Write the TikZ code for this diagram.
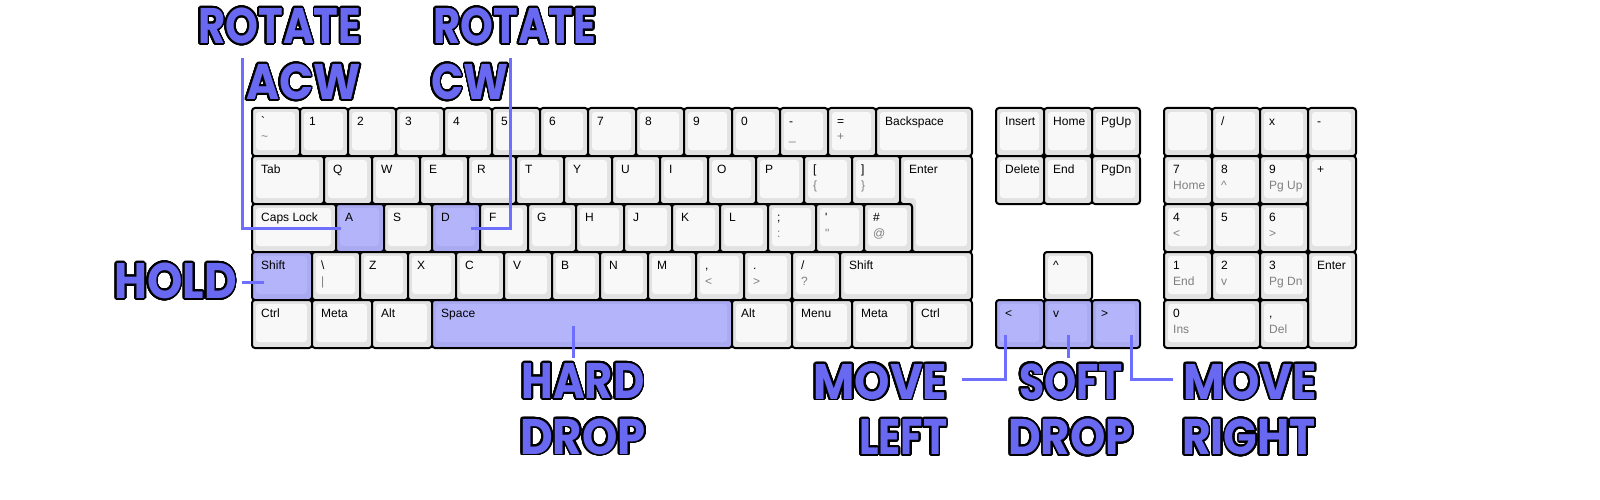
\documentclass[tikz,border=0pt]{standalone}
\usepackage{fontspec}
\usepackage{contour}
\setmainfont{Liberation Sans}
\newfontfamily\keyfont{Liberation Sans}
\newfontfamily\lblfont{Poppins}[FakeStretch=0.9]
\contourlength{1.8pt}
\contournumber{32}
\definecolor{kbev}{RGB}{226,226,226}
\definecolor{kface}{RGB}{248,248,248}
\definecolor{hbev}{RGB}{170,170,240}
\definecolor{hface}{RGB}{180,180,250}
\definecolor{lblue}{RGB}{104,104,240}
\definecolor{cblue}{RGB}{110,110,255}
\definecolor{subgrey}{RGB}{128,128,128}
\newcommand\outl[2][1]{\scalebox{#1}[1]{\contour{black}{#2}}}
\tikzset{
  keybox/.style={draw=black, line width=2pt, rounded corners=3pt, anchor=north west,
    inner sep=0pt, outer sep=0pt},
  klab/.style={font=\keyfont\fontsize{12}{14}\selectfont, anchor=base west, inner sep=0pt, text=black},
  ksub/.style={font=\keyfont\fontsize{12}{14}\selectfont, anchor=base west, inner sep=0pt, text=subgrey},
  big/.style={font=\lblfont\bfseries\fontsize{50}{56}\selectfont, inner sep=0pt, text=lblue},
  conn/.style={draw=cblue, line width=3pt}
}
\newcommand\keyx[9]{%
  \node[keybox, fill=#1, minimum width={#6*48pt}, minimum height={#7*48pt}] (#3) at ({252+#4*48},{108+#5*48}) {};
  \fill[#2, rounded corners=3pt] ([shift={(4,4)}]#3.north west) rectangle ([shift={(-5,-6)}]#3.south east);
  \node[klab] (#3-a) at ([shift={(9,17.5)}]#3.north west) {#8};
  \node[ksub] (#3-b) at ([shift={(9,33)}]#3.north west) {#9};
}
\newcommand\KEY[7]{\keyx{kbev}{kface}{#1}{#2}{#3}{#4}{#5}{#6}{#7}}
\newcommand\HKEY[7]{\keyx{hbev}{hface}{#1}{#2}{#3}{#4}{#5}{#6}{#7}}
\begin{document}
\begin{tikzpicture}[x=1pt,y=-1pt]
\useasboundingbox[fill=white] (0,0) rectangle (1600,500);
% row 0
\KEY{kgrave}{0}{0}{1}{1}{\textasciigrave}{\textasciitilde}
\KEY{k1}{1}{0}{1}{1}{1}{}
\KEY{k2}{2}{0}{1}{1}{2}{}
\KEY{k3}{3}{0}{1}{1}{3}{}
\KEY{k4}{4}{0}{1}{1}{4}{}
\KEY{k5}{5}{0}{1}{1}{5}{}
\KEY{k6}{6}{0}{1}{1}{6}{}
\KEY{k7}{7}{0}{1}{1}{7}{}
\KEY{k8}{8}{0}{1}{1}{8}{}
\KEY{k9}{9}{0}{1}{1}{9}{}
\KEY{k0}{10}{0}{1}{1}{0}{}
\KEY{kminus}{11}{0}{1}{1}{-}{\_}
\KEY{kequal}{12}{0}{1}{1}{=}{+}
\KEY{kback}{13}{0}{2}{1}{Backspace}{}
% row 1
\KEY{ktab}{0}{1}{1.5}{1}{Tab}{}
\KEY{kQ}{1.5}{1}{1}{1}{Q}{}
\KEY{kW}{2.5}{1}{1}{1}{W}{}
\KEY{kE}{3.5}{1}{1}{1}{E}{}
\KEY{kR}{4.5}{1}{1}{1}{R}{}
\KEY{kT}{5.5}{1}{1}{1}{T}{}
\KEY{kY}{6.5}{1}{1}{1}{Y}{}
\KEY{kU}{7.5}{1}{1}{1}{U}{}
\KEY{kI}{8.5}{1}{1}{1}{I}{}
\KEY{kO}{9.5}{1}{1}{1}{O}{}
\KEY{kP}{10.5}{1}{1}{1}{P}{}
\KEY{klbr}{11.5}{1}{1}{1}{[}{\{}
\KEY{krbr}{12.5}{1}{1}{1}{]}{\}}
% ISO enter
\coordinate (kenter) at (900,156);
\draw[fill=kbev, line width=2pt, rounded corners=3pt] (kenter) -- (972,156) -- (972,252) -- (912,252) -- (912,204) -- (900,204) -- cycle;
\fill[kface, rounded corners=3pt] ([shift={(4,4)}]kenter) -- (967,160) -- (967,246) -- (916,246) -- (916,198) -- (904,198) -- cycle;
\node[klab] (kenter-a) at ([shift={(9,17.5)}]kenter) {Enter};
% row 2
\KEY{kcaps}{0}{2}{1.75}{1}{Caps Lock}{}
\HKEY{kA}{1.75}{2}{1}{1}{A}{}
\KEY{kS}{2.75}{2}{1}{1}{S}{}
\HKEY{kD}{3.75}{2}{1}{1}{D}{}
\KEY{kF}{4.75}{2}{1}{1}{F}{}
\KEY{kG}{5.75}{2}{1}{1}{G}{}
\KEY{kH}{6.75}{2}{1}{1}{H}{}
\KEY{kJ}{7.75}{2}{1}{1}{J}{}
\KEY{kK}{8.75}{2}{1}{1}{K}{}
\KEY{kL}{9.75}{2}{1}{1}{L}{}
\KEY{ksemi}{10.75}{2}{1}{1}{;}{:}
\KEY{kquote}{11.75}{2}{1}{1}{\textquotesingle}{\textquotedbl}
\KEY{khash}{12.75}{2}{1}{1}{\#}{@}
% row 3
\HKEY{klshift}{0}{3}{1.25}{1}{Shift}{}
\KEY{kbslash}{1.25}{3}{1}{1}{\textbackslash}{|}
\KEY{kZ}{2.25}{3}{1}{1}{Z}{}
\KEY{kX}{3.25}{3}{1}{1}{X}{}
\KEY{kC}{4.25}{3}{1}{1}{C}{}
\KEY{kV}{5.25}{3}{1}{1}{V}{}
\KEY{kB}{6.25}{3}{1}{1}{B}{}
\KEY{kN}{7.25}{3}{1}{1}{N}{}
\KEY{kM}{8.25}{3}{1}{1}{M}{}
\KEY{kcomma}{9.25}{3}{1}{1}{,}{<}
\KEY{kdot}{10.25}{3}{1}{1}{.}{>}
\KEY{kslash}{11.25}{3}{1}{1}{/}{?}
\KEY{krshift}{12.25}{3}{2.75}{1}{Shift}{}
% row 4
\KEY{klctrl}{0}{4}{1.25}{1}{Ctrl}{}
\KEY{klmeta}{1.25}{4}{1.25}{1}{Meta}{}
\KEY{klalt}{2.5}{4}{1.25}{1}{Alt}{}
\HKEY{kspace}{3.75}{4}{6.25}{1}{Space}{}
\KEY{kralt}{10}{4}{1.25}{1}{Alt}{}
\KEY{kmenu}{11.25}{4}{1.25}{1}{Menu}{}
\KEY{krmeta}{12.5}{4}{1.25}{1}{Meta}{}
\KEY{krctrl}{13.75}{4}{1.25}{1}{Ctrl}{}
% navigation
\KEY{kins}{15.5}{0}{1}{1}{Insert}{}
\KEY{khome}{16.5}{0}{1}{1}{Home}{}
\KEY{kpgup}{17.5}{0}{1}{1}{PgUp}{}
\KEY{kdel}{15.5}{1}{1}{1}{Delete}{}
\KEY{kend}{16.5}{1}{1}{1}{End}{}
\KEY{kpgdn}{17.5}{1}{1}{1}{PgDn}{}
\KEY{kup}{16.5}{3}{1}{1}{\textasciicircum}{}
\HKEY{kleft}{15.5}{4}{1}{1}{<}{}
\HKEY{kdown}{16.5}{4}{1}{1}{v}{}
\HKEY{kright}{17.5}{4}{1}{1}{>}{}
% numpad
\KEY{knlock}{19}{0}{1}{1}{}{}
\KEY{kndiv}{20}{0}{1}{1}{/}{}
\KEY{knmul}{21}{0}{1}{1}{x}{}
\KEY{knsub}{22}{0}{1}{1}{-}{}
\KEY{kn7}{19}{1}{1}{1}{7}{Home}
\KEY{kn8}{20}{1}{1}{1}{8}{\textasciicircum}
\KEY{kn9}{21}{1}{1}{1}{9}{Pg Up}
\KEY{knadd}{22}{1}{1}{2}{+}{}
\KEY{kn4}{19}{2}{1}{1}{4}{<}
\KEY{kn5}{20}{2}{1}{1}{5}{}
\KEY{kn6}{21}{2}{1}{1}{6}{>}
\KEY{kn1}{19}{3}{1}{1}{1}{End}
\KEY{kn2}{20}{3}{1}{1}{2}{v}
\KEY{kn3}{21}{3}{1}{1}{3}{Pg Dn}
\KEY{knent}{22}{3}{1}{2}{Enter}{}
\KEY{kn0}{19}{4}{2}{1}{0}{Ins}
\KEY{kndot}{21}{4}{1}{1}{,}{Del}
% labels
\node[big, anchor=base east] (rotl1) at (361.5,43.5) {\outl[0.93]{ROTATE}};
\node[big, anchor=base east] (rotl2) at (361,99.5) {\outl{ACW}};
\node[big, anchor=base west] (rotr1) at (433,43.5) {\outl[0.93]{ROTATE}};
\node[big, anchor=base west] (rotr2) at (431,99.5) {\outl[0.95]{CW}};
\node[big, anchor=base] (hold) at (175.5,298.5) {\outl{HOLD}};
\node[big, anchor=base] (hard1) at (583,398.5) {\outl[0.96]{HARD}};
\node[big, anchor=base] (hard2) at (583,454) {\outl{DROP}};
\node[big, anchor=base east] (ml1) at (947.5,399) {\outl{MOVE}};
\node[big, anchor=base east] (ml2) at (947.5,454.5) {\outl[0.91]{LEFT}};
\node[big, anchor=base] (sd1) at (1071,399) {\outl[0.91]{SOFT}};
\node[big, anchor=base] (sd2) at (1071,454.5) {\outl{DROP}};
\node[big, anchor=base] (mr1) at (1250,399) {\outl{MOVE}};
\node[big, anchor=base] (mr2) at (1249,454.5) {\outl[0.98]{RIGHT}};
% connectors
\coordinate (rotlend) at (242,58);
\coordinate (rotrend) at (510,58);
\coordinate (holdend) at (242,282);
\coordinate (hardend) at (573,358);
\coordinate (mlend) at (962,379);
\coordinate (sdend) at (1068,358);
\coordinate (mrend) at (1173,379);
\draw[conn] ([xshift=5pt]kA.west) -| (rotlend);
\draw[conn] ([xshift=-9pt]kD.east) -| (rotrend);
\draw[conn] (holdend) -- ([shift={(12,6)}]klshift.west);
\draw[conn] ([shift={(-9,-22)}]kspace.south) -- (hardend);
\draw[conn] ([shift={(9,35)}]kleft.north west) |- (mlend);
\draw[conn] ([shift={(0,35)}]kdown.north) -- (sdend);
\draw[conn] ([shift={(-9,35)}]kright.north east) |- (mrend);
\end{tikzpicture}
\end{document}
